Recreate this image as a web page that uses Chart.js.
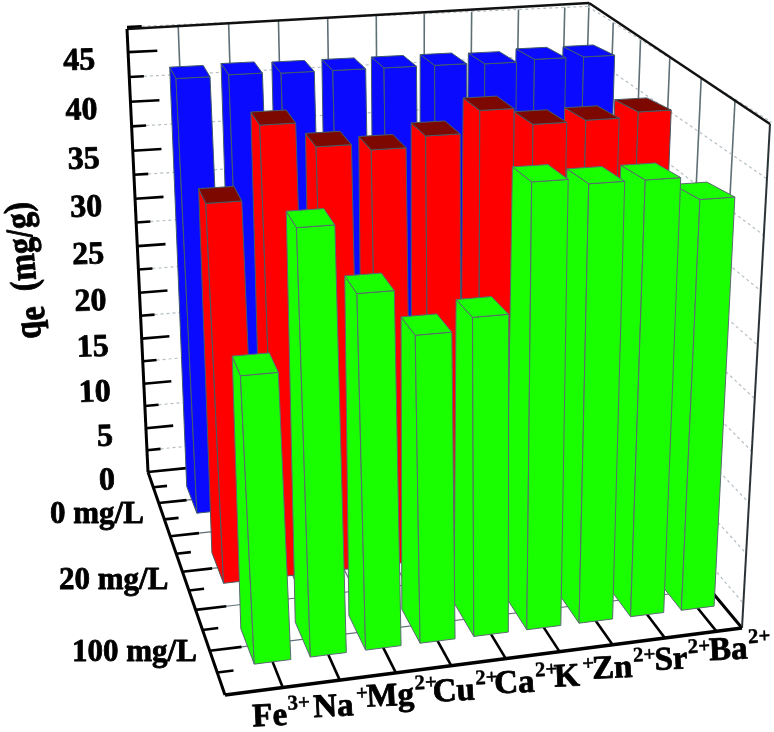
<!DOCTYPE html>
<html><head><meta charset="utf-8">
<style>html,body{margin:0;padding:0;background:#fff}canvas{display:block}</style>
<script src="https://cdn.jsdelivr.net/npm/chart.js@4"></script></head>
<body><canvas id="c" width="774" height="732"></canvas>
<script>
// ---- data ----
const ions    = ['Fe','Na','Mg','Cu','Ca','K','Zn','Sr','Ba'];
const charges = ['3+','+','2+','2+','2+','+','2+','2+','2+'];
const doses   = ['0 mg/L','20 mg/L','100 mg/L'];
const blueValues  = [44.4,44.5,44.4,44.4,44.4,44.4,44.3,44.5,44.5];
const redValues   = [36.8,43.7,41.4,40.8,41.8,43.9,42.3,42.4,42.9];
const greenValues = [26.4,39.1,32.9,28.7,29.9,41.7,41.2,41.2,39.1];
const yTicks = [0,5,10,15,20,25,30,35,40,45];
const yTitle = 'q';
const yTitleSub = 'e';
const yTitleRest = '(mg/g)';

// ---- layout of the perspective box (screen corners) ----
const FBL=[148,472],FBR=[576,429],FFR=[742,628],FFL=[225,695];
const TBL=[127,29],TBR=[589,3],TFR=[770,124];
const Y_MAX=47.5, SERIF='"Liberation Serif","Times New Roman",serif';
const labelDx=[-30,-26,-29,-18,-11,-5,-20,-10,-7];
const labelDy=[39,37,34,36,35,35,34,32,29];
const supGap=[1,3,1,1,1,3,1,1,1];

function squareHomography(p0,p1,p2,p3){ // (0,0),(1,0),(1,1),(0,1)
  const dx1=p1[0]-p2[0],dx2=p3[0]-p2[0],sx=p0[0]-p1[0]+p2[0]-p3[0];
  const dy1=p1[1]-p2[1],dy2=p3[1]-p2[1],sy=p0[1]-p1[1]+p2[1]-p3[1];
  const d=dx1*dy2-dx2*dy1;
  const g=(sx*dy2-dx2*sy)/d,h=(dx1*sy-sx*dy1)/d;
  return [[p1[0]-p0[0]+g*p1[0],p3[0]-p0[0]+h*p3[0],p0[0]],
          [p1[1]-p0[1]+g*p1[1],p3[1]-p0[1]+h*p3[1],p0[1]],
          [g,h,1]];
}
function solve3(A,b){
  const m=A.map((r,i)=>[...r,b[i]]);
  for(let i=0;i<3;i++){
    let p=i;for(let k=i+1;k<3;k++)if(Math.abs(m[k][i])>Math.abs(m[p][i]))p=k;
    [m[i],m[p]]=[m[p],m[i]];
    for(let k=0;k<3;k++)if(k!==i){const f=m[k][i]/m[i][i];for(let j=i;j<4;j++)m[k][j]-=f*m[i][j];}
  }
  return [m[0][3]/m[0][0],m[1][3]/m[1][1],m[2][3]/m[2][2]];
}
const H=squareHomography(FBL,FBR,FFR,FFL);
const C=(function(){
  const pts=[[0,0,TBL],[1,0,TBR],[1,1,TFR]];
  const ATA=[[0,0,0],[0,0,0],[0,0,0]],ATb=[0,0,0];
  const add=(r,b)=>{for(let i=0;i<3;i++){ATb[i]+=r[i]*b;for(let j=0;j<3;j++)ATA[i][j]+=r[i]*r[j];}};
  pts.forEach(([u,v,p])=>{
    const X=H[0][0]*u+H[0][1]*v+H[0][2],Y=H[1][0]*u+H[1][1]*v+H[1][2],W=H[2][0]*u+H[2][1]*v+H[2][2];
    add([1,0,-p[0]],p[0]*W-X);
    add([0,1,-p[1]],p[1]*W-Y);
  });
  return solve3(ATA,ATb);
})();
function P(u,v,h){
  const X=H[0][0]*u+H[0][1]*v+H[0][2]+C[0]*h,
        Y=H[1][0]*u+H[1][1]*v+H[1][2]+C[1]*h,
        W=H[2][0]*u+H[2][1]*v+H[2][2]+C[2]*h;
  return [X/W,Y/W];
}
function line(ctx,a,b,color,w,dash){
  ctx.beginPath();ctx.moveTo(a[0],a[1]);ctx.lineTo(b[0],b[1]);
  ctx.strokeStyle=color;ctx.lineWidth=w;ctx.setLineDash(dash||[]);ctx.stroke();ctx.setLineDash([]);
}
function face(ctx,pts,fill,edge){
  ctx.beginPath();pts.forEach((p,i)=>i?ctx.lineTo(p[0],p[1]):ctx.moveTo(p[0],p[1]));ctx.closePath();
  ctx.fillStyle=fill;ctx.fill();ctx.strokeStyle=edge;ctx.lineWidth=1;ctx.lineJoin='round';ctx.stroke();
}
function heavy(ctx,s,x,y,w){
  ctx.lineWidth=w;ctx.strokeStyle='#000';ctx.lineJoin='round';ctx.strokeText(s,x,y);ctx.fillText(s,x,y);
}
const box3d={
  id:'box3d',
  beforeDatasetsDraw(chart){
    const ctx=chart.ctx,{x,y,z}=chart.scales,n=ions.length,m=doses.length;
    const U=i=>(1+(x.getPixelForValue(i)-x.left)/x.width*(n-1))/(n+0.5);
    const V=k=>(1+2*(z.getPixelForValue(k)-z.left)/z.width*(m-1))/(2*m);
    const Hh=val=>(y.bottom-y.getPixelForValue(val))/y.height;
    const GRID='#5f6f76',DOT='#b5bfc4',K='#000';
    const DV=1/(2*m);
    ctx.save();
    // wall and floor grids
    for(let i=0;i<n;i++){
      line(ctx,P(U(i),0,1),P(U(i),0,0),GRID,1.6);
      line(ctx,P(U(i),0,0),P(U(i),0.84,0),GRID,1.2);
    }
    line(ctx,TBR,FBR,GRID,1.6);
    for(let k=1;k<2*m;k++){
      line(ctx,P(1,k*DV,1),P(1,k*DV,0),GRID,1.6);
      line(ctx,P(0.06,k*DV,0),P(1,k*DV,0),GRID,1.2);
    }
    yTicks.forEach(t=>{
      const mid=Hh(t+2.5);
      line(ctx,P(0.03,0,mid),P(1,0,mid),DOT,1.2,[3,3]);
      line(ctx,P(1,0,mid),P(1,1,mid),DOT,1.2,[3,3]);
    });
    line(ctx,P(0.085,0,0),FBR,GRID,1.2);
    // axis frame
    line(ctx,FBR,FFR,K,3);
    line(ctx,TBL,TBR,'#111',2.5);
    line(ctx,TBR,TFR,'#111',2.5);
    line(ctx,TFR,FFR,'#2a3236',2);
    line(ctx,FBL,TBL,K,3);
    line(ctx,FBL,FFL,K,3);
    line(ctx,FFL,FFR,K,3.5);
    // y ticks
    yTicks.forEach(t=>{
      if(t>0) line(ctx,P(0,0,Hh(t)),P(0.06,0,Hh(t)),K,2.6);
      else    line(ctx,P(0,0,0),P(0.085,0,0),K,2.6);
      line(ctx,P(0,0,Hh(t+2.5)),P(0.03,0,Hh(t+2.5)),K,2.6);
    });
    // depth ticks
    for(let k=1;k<2*m;k++) line(ctx,P(0,k*DV,0),P(0.06,k*DV,0),K,2.6);
    for(let k=0;k<2*m;k++) line(ctx,P(0,(k+.5)*DV,0),P(0.03,(k+.5)*DV,0),K,2.6);
    // category ticks
    for(let i=0;i<n;i++) line(ctx,P(U(i),0.84,0),P(U(i),1,0),K,2.6);
    // bars
    const hu=0.325/(n+0.5),hv=0.42*DV;
    const frontTop=(uq,v0,v1,h,u)=>{
      const a=P(uq,v0,h),b=P(uq,v1,h),fx=0.55+0.45*u,fy=0.7;
      return [a[0]+(b[0]-a[0])*fx,a[1]+(b[1]-a[1])*fy];
    };
    chart.data.datasets.forEach((ds,k)=>{
      const v=V(k);
      for(let i=n-1;i>=0;i--){
        const u=U(i),h=Hh(ds.data[i]);
        const u0=u-hu,u1=u+hu,v0=v-hv,v1=v+hv;
        const e=ds.borderColor;
        const tl=frontTop(u0,v0,v1,h,u),tr=frontTop(u1,v0,v1,h,u);
        face(ctx,[P(u0,v0,0),P(u0,v1,0),tl,P(u0,v0,h)],ds.backgroundColor,e);
        face(ctx,[P(u0,v1,0),P(u1,v1,0),tr,tl],ds.backgroundColor,e);
        face(ctx,[P(u0,v0,h),P(u1,v0,h),tr,tl],ds.topColor,e);
      }
    });
    // text
    ctx.fillStyle='#000';
    ctx.textBaseline='middle';ctx.textAlign='right';
    ctx.font='bold 32px '+SERIF;
    yTicks.forEach(t=>{
      const p=P(0,0,Hh(t));
      ctx.save();ctx.translate(p[0]-33,p[1]+9);ctx.rotate(-0.03);heavy(ctx,String(t),0,0,0.8);ctx.restore();
    });
    ctx.textBaseline='alphabetic';ctx.textAlign='left';
    ctx.font='bold 31px '+SERIF;
    const dosePos=[[50,523],[59,589],[72,661]];
    doses.forEach((d,k)=>heavy(ctx,d,dosePos[k][0],dosePos[k][1],0.8));
    ions.forEach((s,i)=>{
      const p=P(U(i),1,0);
      ctx.save();ctx.translate(p[0]+labelDx[i],p[1]+labelDy[i]);ctx.rotate(-0.05);
      ctx.font='bold 33px '+SERIF;heavy(ctx,s,0,0,0.8);
      const w=ctx.measureText(s).width;
      ctx.font='bold 21px '+SERIF;heavy(ctx,charges[i],w+supGap[i],-15,0.4);
      ctx.restore();
    });
    ctx.save();ctx.translate(41,338);ctx.rotate(-1.658);ctx.scale(0.92,1.08);
    ctx.font='bold 35px '+SERIF;heavy(ctx,yTitle,0,0,0.8);
    let w=ctx.measureText(yTitle).width;
    heavy(ctx,yTitleSub,w,5,0.8);
    w+=ctx.measureText(yTitleSub).width+17;
    heavy(ctx,yTitleRest,w,0,0.8);
    ctx.restore();
    ctx.restore();
    return false;
  }
};
new Chart(document.getElementById('c'),{
  type:'bar',
  data:{labels:ions,datasets:[
    {label:doses[0],data:blueValues,backgroundColor:'#0a0aff',topColor:'#0a0aff',borderColor:'#3f5a6a'},
    {label:doses[1],data:redValues,backgroundColor:'#ff0000',topColor:'#7d0800',borderColor:'#4a5a60'},
    {label:doses[2],data:greenValues,backgroundColor:'#19ff00',topColor:'#19ff00',borderColor:'#5a6a70'}
  ]},
  options:{
    responsive:false,animation:false,
    layout:{padding:0},
    plugins:{legend:{display:false},tooltip:{enabled:false},title:{display:false}},
    scales:{
      x:{type:'category',offset:false,display:false,grid:{display:false}},
      z:{type:'category',axis:'x',labels:doses,offset:false,display:false,grid:{display:false}},
      y:{type:'linear',min:0,max:Y_MAX,display:false,grid:{display:false}}
    }
  },
  plugins:[box3d]
});
</script></body></html>
